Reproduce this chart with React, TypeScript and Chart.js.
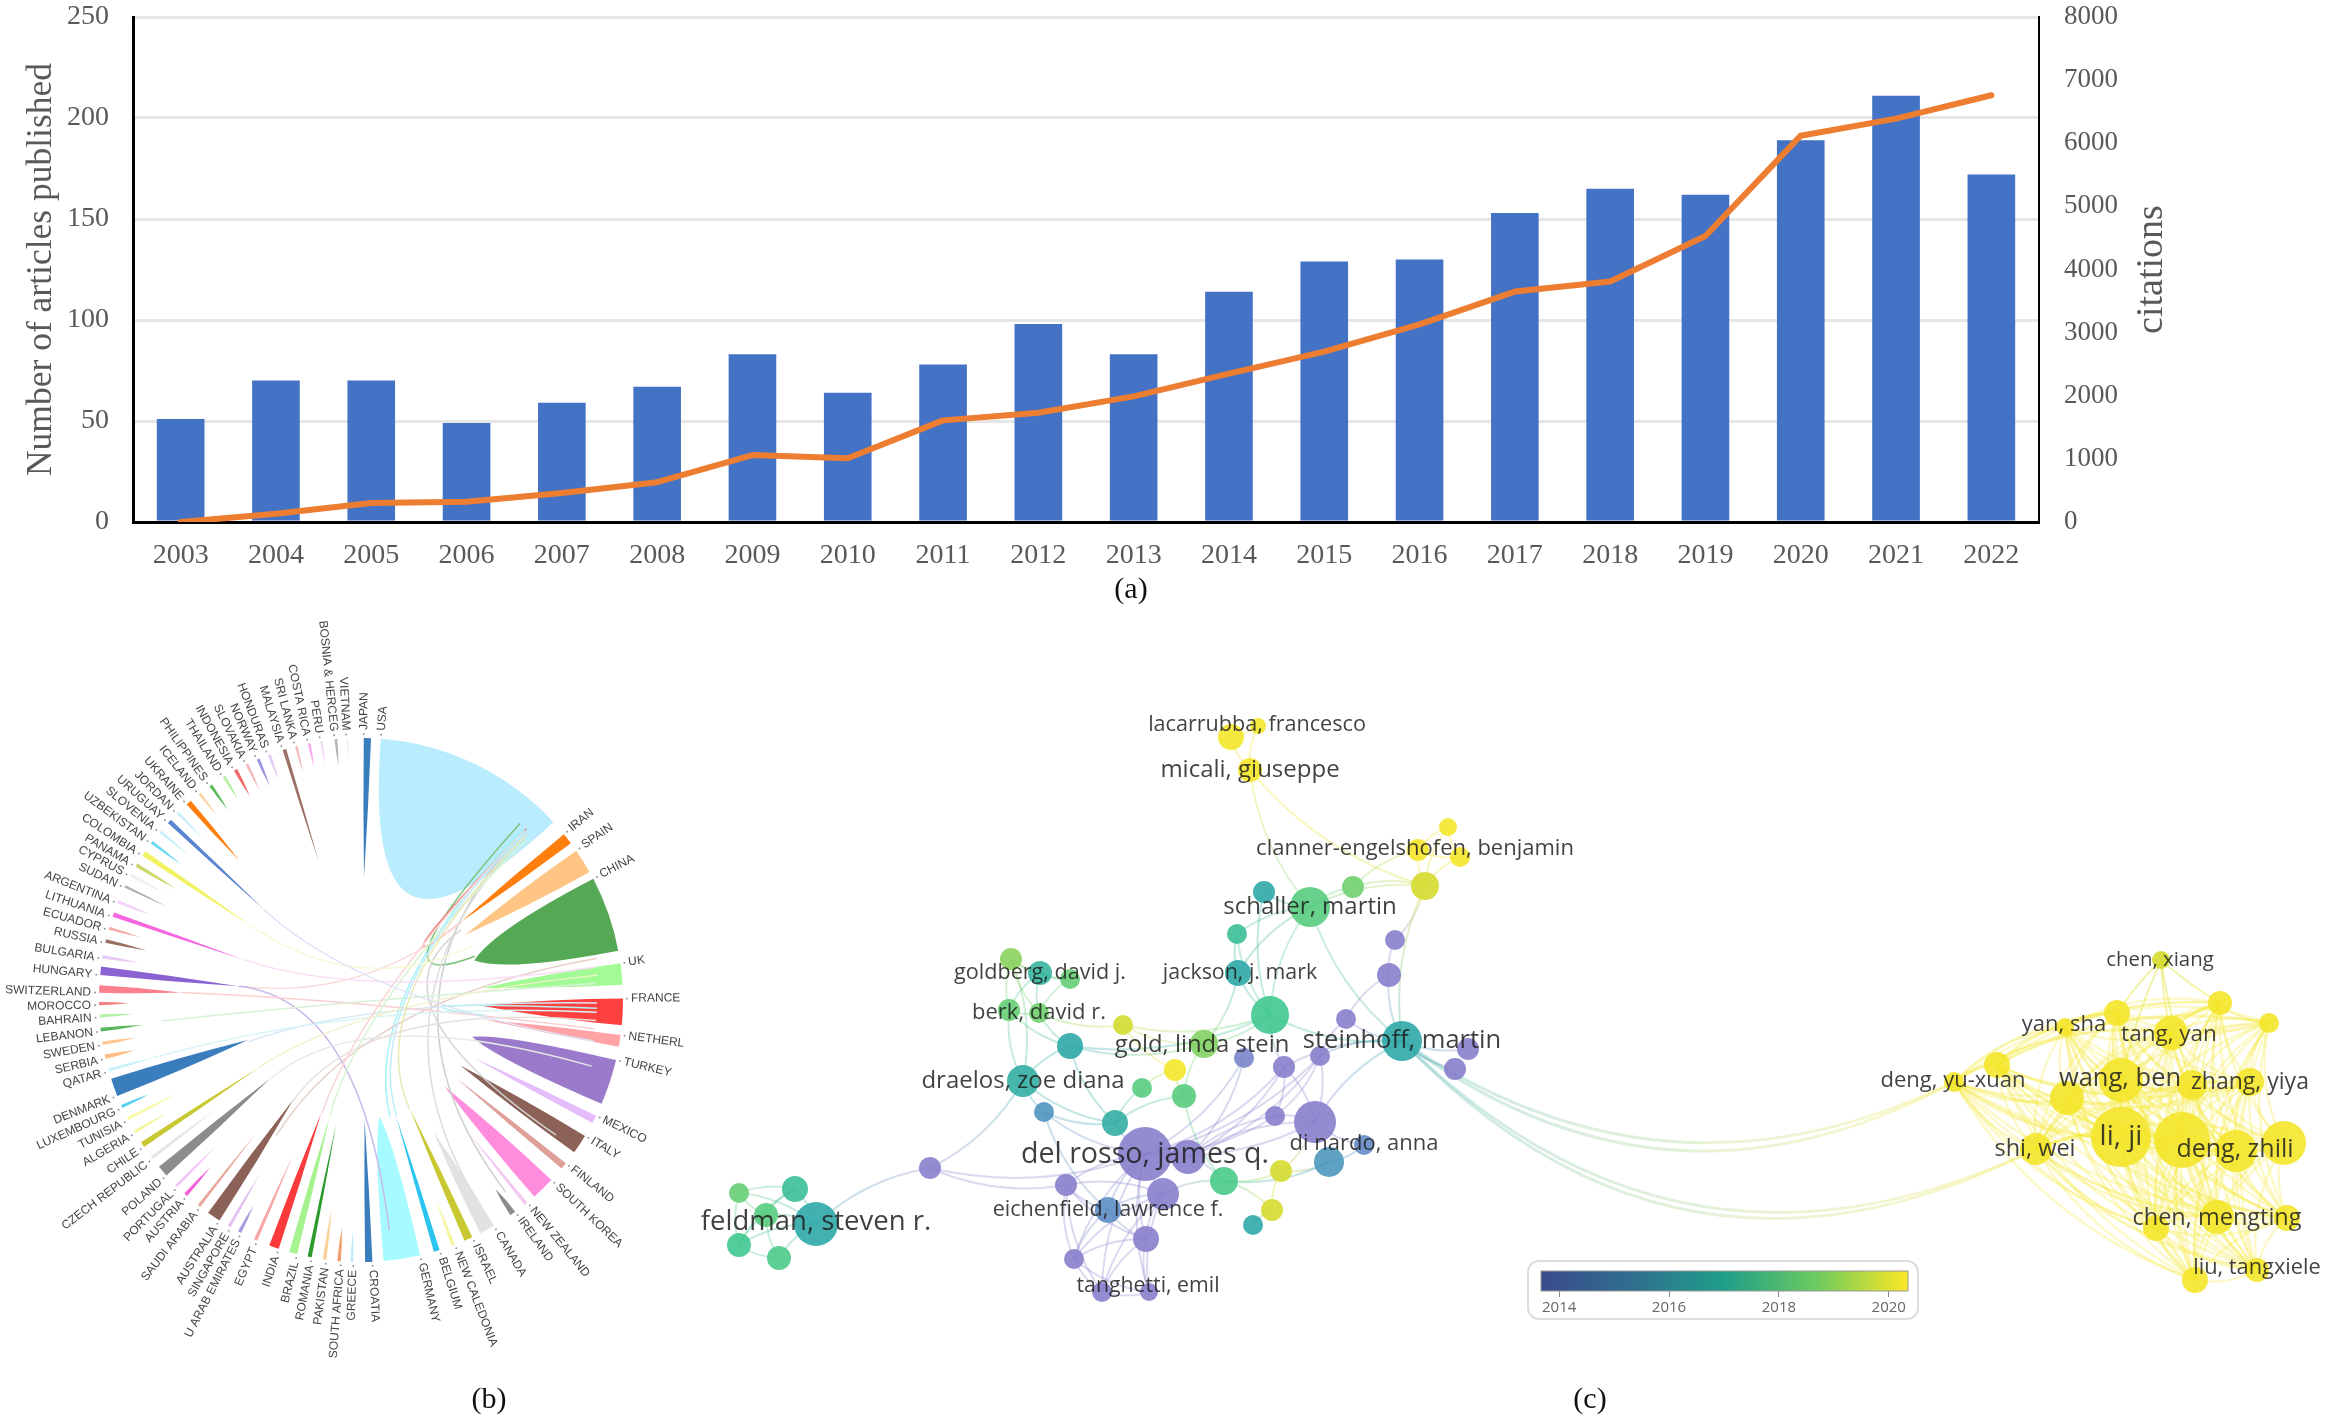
import { useEffect, useRef } from "react";
import { Chart, registerables } from "chart.js";

Chart.register(...registerables);
Chart.defaults.devicePixelRatio = 1;

// (a) yearly output
const years = ["2003", "2004", "2005", "2006", "2007", "2008", "2009", "2010", "2011", "2012", "2013", "2014", "2015", "2016", "2017", "2018", "2019", "2020", "2021", "2022"];
const articles = [51, 70, 70, 49, 59, 67, 83, 64, 78, 98, 83, 114, 129, 130, 153, 165, 162, 189, 211, 172];
const citations = [0, 130, 300, 320, 460, 630, 1060, 1010, 1610, 1730, 1990, 2350, 2700, 3130, 3650, 3810, 4530, 6120, 6390, 6760];

// (b) country chord: angle in degrees clockwise from north, span of the band, radius the band reaches in to
const countries = ["USA", "IRAN", "SPAIN", "CHINA", "UK", "FRANCE", "NETHERL", "TURKEY", "MEXICO", "ITALY", "FINLAND", "SOUTH KOREA", "NEW ZEALAND", "IRELAND", "CANADA", "ISRAEL", "NEW CALEDONIA", "BELGIUM", "GERMANY", "CROATIA", "GREECE", "SOUTH AFRICA", "PAKISTAN", "ROMANIA", "BRAZIL", "INDIA", "EGYPT", "U ARAB EMIRATES", "SINGAPORE", "AUSTRALIA", "SAUDI ARABIA", "AUSTRIA", "PORTUGAL", "POLAND", "CZECH REPUBLIC", "CHILE", "ALGERIA", "TUNISIA", "LUXEMBOURG", "DENMARK", "QATAR", "SERBIA", "SWEDEN", "LEBANON", "BAHRAIN", "MOROCCO", "SWITZERLAND", "HUNGARY", "BULGARIA", "RUSSIA", "ECUADOR", "LITHUANIA", "ARGENTINA", "SUDAN", "CYPRUS", "PANAMA", "COLOMBIA", "UZBEKISTAN", "SLOVENIA", "URUGUAY", "JORDAN", "UKRAINE", "ICELAND", "PHILIPPINES", "THAILAND", "INDONESIA", "SLOVAKIA", "NORWAY", "HONDURAS", "MALAYSIA", "SRI LANKA", "COSTA RICA", "PERU", "BOSNIA & HERCEG", "VIETNAM", "JAPAN"];
const bandAngle = [25.8, 52, 58, 70.8, 84.3, 92.6, 99, 108.3, 117.1, 123.4, 129.3, 136, 141, 144.6, 151.2, 155.8, 159.4, 163.2, 171, 178.3, 182, 184.8, 188, 191.3, 195, 199.4, 203.7, 207.6, 210.2, 214.2, 218.2, 222, 224.8, 229.2, 233, 236.5, 239.8, 243, 246, 250.5, 254.5, 257.5, 260.5, 263.5, 266.5, 269.2, 272.4, 276.4, 279.5, 283, 285.9, 289, 292, 295.7, 298.5, 301, 304, 307, 310, 313, 315.6, 318.9, 322, 325, 328.5, 331.4, 334.2, 336.9, 339.5, 343, 345.7, 348.6, 351.3, 354.5, 357, 1.4];
const bandSpan = [42.9, 2.5, 5.5, 16.7, 4.7, 5.9, 2.6, 10.1, 1.8, 4.3, 1.5, 5.2, 0.8, 1.3, 3.4, 1.9, 0.8, 1.3, 8.1, 1.6, 0.6, 0.8, 0.8, 0.9, 1.8, 2.2, 0.8, 0.8, 0.7, 3, 0.7, 0.8, 0.7, 2.5, 0.7, 1.2, 0.7, 0.7, 0.7, 4, 0.7, 1, 0.8, 0.8, 0.7, 0.7, 1.6, 1.9, 0.8, 0.8, 0.7, 1, 0.7, 0.6, 0.6, 0.8, 1.2, 0.7, 0.6, 1, 0.6, 1.2, 0.6, 0.7, 0.7, 0.8, 0.6, 0.7, 0.7, 0.8, 0.6, 0.6, 0.5, 0.6, 0.4, 1.6];
const bandReach = [116, 127, 123, 120, 122, 119, 125, 117, 125, 119, 123, 120, 170, 232, 151, 119, 215, 122, 118, 119, 230, 228, 210, 127, 120, 120, 170, 232, 200, 119, 170, 225, 205, 120, 180, 122, 225, 205, 232, 120, 215, 232, 228, 220, 228, 232, 180, 123, 225, 220, 230, 124, 225, 215, 220, 215, 132, 225, 225, 133, 225, 185, 235, 232, 235, 232, 232, 232, 235, 145, 235, 238, 238, 235, 238, 122];
const bandColors = ["#b9ecfd", "#ff7f0e", "#ffc585", "#55a955", "#a2fb94", "#fd4040", "#ffa3a6", "#9c7acb", "#e6bdfb", "#8c6258", "#dfa09a", "#ff8cdc", "#f3c8f3", "#8c8c8c", "#e2e2e2", "#c8c832", "#f5f5a0", "#2bc4f0", "#a5fbff", "#3a7dbd", "#bfeefa", "#f0a070", "#fbd09a", "#2e9a2e", "#a6f28f", "#fb3b3b", "#f8a8a8", "#a79ee0", "#e2c0f2", "#8c6258", "#eba89f", "#f45ed8", "#f0c8f5", "#8c8c8c", "#e4e4e4", "#c8c832", "#f5f5a0", "#f8f8a8", "#55d0f5", "#3a7dbd", "#c5f2f8", "#ffbe85", "#ffc78f", "#5ab55a", "#b2f2a5", "#f47f7f", "#fb7f8c", "#8a62d2", "#e8c8f5", "#9b7165", "#f2b0ac", "#f565df", "#f2d4f8", "#b0b0b0", "#eeeeee", "#cfd66a", "#f2f265", "#6ed8f2", "#c5f2f8", "#5a84d2", "#c8f0f8", "#ff7f0e", "#ffd0a0", "#5abb5a", "#b5eea5", "#f06a6a", "#f5b5b5", "#9a94e2", "#e4d0f5", "#9b7165", "#f5bcbc", "#f8a8ec", "#f0d8f5", "#b5b5b5", "#f0f0f0", "#3a7dbd"];

// the ribbons that stay visible in the middle of the chord
const linkFromAngle = [166, 42, 44, 55, 44, 45, 212, 249.6, 276.4, 276.4, 272.4, 264, 254.5, 236.5, 229, 97, 195, 199, 156, 163, 214, 304, 289, 313];
const linkFromRadius = [120, 238, 238, 122, 236, 235, 160, 120, 123, 123, 180, 200, 215, 122, 120, 125, 120, 120, 119, 122, 125, 132, 124, 133];
const linkToAngle = [43.3, 69, 52, 124.7, 143, 150, 80, 90.7, 52, 173, 97, 86, 93, 84, 106, 92, 46, 44, 45, 44, 95, 64, 82, 100];
const linkToRadius = [236, 122, 127, 237, 240, 225, 240, 236, 125, 232, 235, 235, 236, 238, 240, 236, 230, 232, 233, 235, 236, 125, 236, 236];
const linkColors = ["#9ff3fa", "#7cc47c", "#f08080", "#d4d4d4", "#cfcfcf", "#dddddd", "#e6d0c8", "#d8e8f5", "#fbdcdc", "#c9b8ea", "#fbd0d0", "#d8f0d8", "#d8f5f8", "#f2f2c8", "#e8e8e8", "#b8f0f0", "#d8f5d0", "#fad8d8", "#e8e8b0", "#c0ecfa", "#e8e0dc", "#f8f8d8", "#fbdcf5", "#dde4f8"];

// (c) co-authorship map, map units, year is the mean publication year of the node
const nodeX = [1231, 1258, 1250, 1448, 1418, 1460, 1425, 1353, 1264, 1310, 1237, 1395, 1389, 1011, 1040, 1070, 1238, 1270, 1009, 1039, 1123, 1070, 1204, 1346, 1402, 1468, 1455, 1320, 1284, 1244, 1175, 1184, 1142, 1023, 1044, 1115, 1275, 1315, 1364, 1329, 1281, 1224, 1145, 1188, 1163, 1066, 1108, 1146, 1074, 1102, 1149, 1272, 1253, 930, 816, 795, 739, 766, 739, 779, 2161, 2117, 2220, 2269, 2065, 2171, 1997, 1954, 2121, 2067, 2192, 2250, 2121, 2182, 2236, 2284, 2036, 2217, 2156, 2287, 2195, 2257];
const nodeY = [737, 726, 770, 827, 850, 857, 886, 887, 892, 907, 934, 940, 975, 959, 973, 979, 973, 1015, 1010, 1013, 1025, 1046, 1044, 1019, 1041, 1049, 1069, 1056, 1067, 1058, 1070, 1096, 1088, 1081, 1112, 1123, 1116, 1122, 1145, 1162, 1171, 1181, 1154, 1157, 1194, 1185, 1210, 1239, 1259, 1292, 1292, 1210, 1225, 1168, 1224, 1189, 1193, 1215, 1245, 1258, 960, 1013, 1003, 1023, 1027, 1033, 1065, 1082, 1080, 1098, 1085, 1082, 1137, 1140, 1151, 1143, 1149, 1217, 1228, 1218, 1280, 1270];
const nodeSize = [13, 8, 12, 9, 11, 10, 14, 11, 11, 20, 10, 10, 12, 11, 12, 10, 13, 19, 11, 10, 10, 13, 14, 10, 20, 11, 11, 10, 11, 10, 11, 12, 10, 16, 10, 13, 10, 21, 10, 15, 11, 14, 27, 17, 16, 11, 13, 13, 10, 10, 9, 11, 10, 11, 22, 13, 10, 12, 12, 12, 9, 13, 12, 10, 9, 17, 13, 10, 22, 17, 15, 14, 30, 28, 21, 22, 16, 17, 13, 13, 13, 12];
const nodeYear = [2020, 2020, 2020, 2020, 2020, 2020, 2019.3, 2018, 2016, 2017.5, 2016.7, 2014, 2014, 2018.3, 2016.4, 2017.8, 2016, 2017, 2017.8, 2018, 2019.2, 2016, 2018.2, 2014, 2016, 2014, 2014, 2014, 2014, 2014.3, 2020, 2017.5, 2017.5, 2016.2, 2015.2, 2016.2, 2014, 2014, 2014.7, 2015.3, 2019.3, 2017.2, 2014, 2014, 2014, 2014, 2014.9, 2014, 2014, 2014, 2014, 2019.3, 2016, 2014, 2016, 2016.7, 2017.8, 2017.5, 2017, 2017.2, 2019.3, 2020, 2020, 2020, 2020, 2020, 2020, 2020, 2020, 2020, 2020, 2020, 2020, 2020, 2020, 2020, 2020, 2020, 2020, 2020, 2020, 2020];
const edges = [[0, 1], [0, 2], [1, 2], [2, 9], [2, 6], [3, 4], [3, 5], [3, 6], [4, 5], [4, 6], [5, 6], [4, 7], [6, 7], [6, 9], [7, 9], [8, 9], [9, 10], [9, 16], [9, 17], [9, 24], [6, 24], [10, 16], [8, 17], [10, 17], [16, 17], [17, 24], [17, 28], [11, 6], [11, 12], [12, 24], [12, 23], [23, 24], [23, 27], [24, 25], [24, 26], [24, 27], [24, 28], [24, 37], [13, 14], [13, 15], [13, 18], [13, 19], [14, 15], [14, 18], [14, 19], [15, 19], [18, 19], [18, 21], [18, 33], [19, 21], [19, 20], [21, 33], [21, 35], [21, 22], [21, 17], [20, 22], [20, 30], [20, 17], [22, 17], [22, 31], [22, 16], [30, 31], [30, 32], [31, 41], [31, 35], [32, 35], [33, 34], [33, 35], [33, 13], [34, 35], [34, 42], [34, 46], [35, 42], [41, 40], [41, 43], [41, 39], [41, 44], [40, 51], [40, 39], [40, 37], [51, 52], [51, 41], [39, 38], [37, 38], [37, 27], [37, 28], [37, 36], [37, 43], [36, 28], [36, 27], [36, 43], [43, 28], [43, 29], [43, 27], [42, 43], [42, 44], [42, 45], [42, 46], [42, 47], [42, 48], [42, 49], [42, 50], [42, 36], [42, 37], [42, 29], [42, 28], [42, 27], [44, 45], [44, 46], [44, 47], [44, 48], [44, 49], [44, 50], [45, 46], [45, 47], [45, 48], [45, 49], [46, 47], [46, 48], [47, 48], [47, 49], [47, 50], [48, 49], [48, 50], [49, 50], [53, 42], [53, 45], [53, 33], [53, 54], [54, 55], [54, 56], [54, 57], [54, 58], [54, 59], [55, 56], [55, 57], [55, 58], [56, 57], [56, 58], [57, 58], [57, 59], [58, 59]];
const yellowGroup = [61, 62, 63, 64, 65, 66, 67, 68, 69, 70, 71, 72, 73, 74, 75, 76, 77, 78, 79, 80, 81];
const chenXiangLinks = [61, 62, 65, 68, 70];
const bridgeLinks = [[24, 67, 0.32], [24, 67, 0.29], [24, 76, 0.35], [24, 76, 0.37]];

const authorNames = ["lacarrubba, francesco", "micali, giuseppe", "clanner-engelshofen, benjamin", "schaller, martin", "goldberg, david j.", "jackson, j. mark", "berk, david r.", "gold, linda stein", "steinhoff, martin", "draelos, zoe diana", "del rosso, james q.", "di nardo, anna", "eichenfield, lawrence f.", "feldman, steven r.", "tanghetti, emil", "chen, xiang", "yan, sha", "tang, yan", "deng, yu-xuan", "wang, ben", "zhang, yiya", "li, ji", "deng, zhili", "shi, wei", "chen, mengting", "liu, tangxiele"];
const authorX = [1257, 1250, 1415, 1310, 1040, 1240, 1039, 1202, 1402, 1023, 1145, 1364, 1108, 816, 1148, 2160, 2064, 2169, 1953, 2120, 2250, 2121, 2235, 2035, 2217, 2257];
const authorY = [725, 770, 849, 907, 973, 973, 1013, 1045, 1041, 1081, 1155, 1144, 1210, 1222, 1286, 960, 1025, 1035, 1081, 1079, 1082, 1137, 1150, 1149, 1218, 1268];
const authorFont = [21.6, 24, 22, 24, 21.6, 21.4, 22, 23.8, 25.5, 24, 28.6, 22, 21.6, 27.5, 21.3, 20.4, 22, 22.5, 22, 25.5, 23, 28, 25, 23.5, 23.5, 21.8];

const legendYears = [2014, 2016, 2018, 2020];

const yearStops = [[2014, 136, 128, 204], [2015, 88, 144, 196], [2016, 48, 168, 168], [2017, 64, 200, 144], [2018, 112, 208, 112], [2019, 200, 216, 48], [2020, 244, 230, 42]];

const yearColor = (year: number, alpha = 1) => {
  let i = 0;
  while (i < yearStops.length - 2 && year > yearStops[i + 1][0]) i++;
  const a = yearStops[i];
  const b = yearStops[i + 1];
  const t = Math.min(1, Math.max(0, (year - a[0]) / (b[0] - a[0])));
  const mix = (k: number) => Math.round(a[k] + (b[k] - a[k]) * t);
  return `rgba(${mix(1)},${mix(2)},${mix(3)},${alpha})`;
};

const SERIF = '"Liberation Serif", serif';
const SANS = '"Liberation Sans", sans-serif';
const OPEN = '"Open Sans", sans-serif';
const GREY = "#595959";
const CHORD_R = 262;

// right axis title reads bottom to top, which chart.js will not do for a right axis
const citationsTitle = {
  id: "citationsTitle",
  afterDraw(chart: any) {
    const { ctx, chartArea } = chart;
    ctx.save();
    ctx.translate(chartArea.right + 113, (chartArea.top + chartArea.bottom) / 2);
    ctx.rotate(-Math.PI / 2);
    ctx.font = `38px ${SERIF}`;
    ctx.fillStyle = GREY;
    ctx.textAlign = "center";
    ctx.textBaseline = "middle";
    ctx.fillText("citations", 0, 0);
    ctx.restore();
  },
};

// tick padding would otherwise push the plot area down from the top
const fixedWidth = (width: number) => (s: any) => {
  s.width = width;
  s.paddingTop = 0;
  s.paddingBottom = 0;
};

const trendConfig: any = {
  data: {
    labels: years,
    datasets: [
      { type: "line", data: citations, yAxisID: "y1", borderColor: "#ed7d31", borderWidth: 6, pointRadius: 0, tension: 0, borderCapStyle: "round", borderJoinStyle: "round", order: 1 },
      { type: "bar", data: articles, yAxisID: "y", backgroundColor: "#4472c4", barPercentage: 0.5, categoryPercentage: 1, order: 2 },
    ],
  },
  options: {
    responsive: false,
    animation: false,
    layout: { autoPadding: false, padding: { top: 17, right: 0, left: 0, bottom: 0 } },
    plugins: { legend: { display: false }, tooltip: { enabled: false } },
    scales: {
      x: {
        grid: { display: false, drawTicks: false },
        border: { color: "#000", width: 3 },
        ticks: { color: GREY, font: { family: SERIF, size: 28 }, padding: 17, maxRotation: 0, autoSkip: false },
        afterFit: (s: any) => {
          s.height = 78;
          s.paddingLeft = 0;
          s.paddingRight = 0;
        },
      },
      y: {
        min: 0, max: 250,
        grid: { color: "#e6e6e6", lineWidth: 3, drawTicks: false },
        border: { color: "#000", width: 3 },
        ticks: { stepSize: 50, color: GREY, font: { family: SERIF, size: 28 }, padding: 24 },
        title: { display: true, text: "Number of articles published", color: GREY, font: { family: SERIF, size: 35.5 }, padding: { top: 20, bottom: 0 } },
        afterFit: fixedWidth(133),
      },
      y1: {
        position: "right",
        min: 0, max: 8000,
        grid: { display: false, drawTicks: false },
        border: { color: "#000", width: 2 },
        ticks: { stepSize: 1000, color: GREY, font: { family: SERIF, size: 27 }, padding: 25, callback: (v: number) => String(v) },
        afterFit: fixedWidth(286),
      },
    },
  },
  plugins: [citationsTitle],
};

const chordPlugin = {
  id: "chord",
  beforeDatasetsDraw(chart: any) {
    const { ctx, scales } = chart;
    const at = (deg: number, r: number) => {
      const a = (deg * Math.PI) / 180;
      return [scales.x.getPixelForValue(r * Math.sin(a)), scales.y.getPixelForValue(r * Math.cos(a))];
    };
    const [cx, cy] = at(0, 0);
    const rimPx = Math.abs(at(0, CHORD_R)[1] - cy);
    countries.forEach((_, i) => {
      const a0 = bandAngle[i] - bandSpan[i] / 2;
      const a1 = bandAngle[i] + bandSpan[i] / 2;
      const reach = bandReach[i];
      // the wide bands keep their width far inward and end in a round tip, the thin ones taper straight
      const belly = reach + (CHORD_R - reach) * (bandSpan[i] > 30 ? 0.06 : bandSpan[i] > 8 ? 0.2 : 0.5);
      const tip = at(bandAngle[i], reach);
      const c1 = at(a1, belly);
      const c0 = at(a0, belly);
      const start = at(a0, CHORD_R);
      ctx.beginPath();
      ctx.arc(cx, cy, rimPx, ((a0 - 90) * Math.PI) / 180, ((a1 - 90) * Math.PI) / 180);
      ctx.quadraticCurveTo(c1[0], c1[1], tip[0], tip[1]);
      ctx.quadraticCurveTo(c0[0], c0[1], start[0], start[1]);
      ctx.closePath();
      ctx.fillStyle = bandColors[i];
      ctx.fill();
    });
    linkFromAngle.forEach((_, i) => {
      const p = at(linkFromAngle[i], linkFromRadius[i]);
      const q = at(linkToAngle[i], linkToRadius[i]);
      ctx.beginPath();
      ctx.moveTo(p[0], p[1]);
      ctx.quadraticCurveTo(cx, cy, q[0], q[1]);
      ctx.strokeStyle = linkColors[i];
      ctx.lineWidth = 1.5;
      ctx.stroke();
    });
  },
  afterDatasetsDraw(chart: any) {
    const { ctx, scales } = chart;
    ctx.save();
    ctx.font = `12px ${SANS}`;
    ctx.fillStyle = "#444";
    ctx.textBaseline = "middle";
    countries.forEach((name, i) => {
      // the label sits at the band's leading edge, not its middle
      const deg = ((bandAngle[i] - bandSpan[i] / 2) % 360 + 360) % 360;
      const a = (deg * Math.PI) / 180;
      const x = scales.x.getPixelForValue(270 * Math.sin(a));
      const y = scales.y.getPixelForValue(270 * Math.cos(a));
      ctx.save();
      ctx.translate(x, y);
      if (deg < 180) {
        ctx.rotate(a - Math.PI / 2);
        ctx.textAlign = "left";
      } else {
        ctx.rotate(a + Math.PI / 2);
        ctx.textAlign = "right";
      }
      ctx.fillText(name, 0, 0);
      ctx.restore();
    });
    ctx.restore();
  },
};

const chordConfig: any = {
  type: "scatter",
  data: {
    datasets: [{
      data: countries.map((_, i) => {
        const a = ((bandAngle[i] - bandSpan[i] / 2) * Math.PI) / 180;
        return { x: 266 * Math.sin(a), y: 266 * Math.cos(a) };
      }),
      pointRadius: 1,
      pointBackgroundColor: "#999",
      pointBorderWidth: 0,
    }],
  },
  options: {
    responsive: false,
    animation: false,
    layout: { autoPadding: false },
    plugins: { legend: { display: false }, tooltip: { enabled: false } },
    scales: {
      x: { display: false, min: -361, max: 359 },
      y: { display: false, min: -422, max: 400 },
    },
  },
  plugins: [chordPlugin],
};

const networkPlugin = {
  id: "network",
  beforeDatasetsDraw(chart: any) {
    const { ctx, scales } = chart;
    const px = (i: number) => [scales.x.getPixelForValue(nodeX[i]), scales.y.getPixelForValue(nodeY[i])];
    const curve = (a: number, b: number, bend: number, width: number, alpha: number) => {
      const [x0, y0] = px(a);
      const [x1, y1] = px(b);
      const g = ctx.createLinearGradient(x0, y0, x1, y1);
      g.addColorStop(0, yearColor(nodeYear[a], alpha));
      g.addColorStop(1, yearColor(nodeYear[b], alpha));
      ctx.beginPath();
      ctx.moveTo(x0, y0);
      ctx.quadraticCurveTo((x0 + x1) / 2 - (y1 - y0) * bend, (y0 + y1) / 2 + (x1 - x0) * bend, x1, y1);
      ctx.strokeStyle = g;
      ctx.lineWidth = width;
      ctx.stroke();
    };
    edges.forEach(([a, b]) => curve(a, b, 0.15, 2, 0.3));
    yellowGroup.forEach((a, i) => yellowGroup.slice(i + 1).forEach((b) => curve(a, b, 0.18, 2.5, 0.25)));
    chenXiangLinks.forEach((b) => curve(60, b, 0.05, 2, 0.4));
    bridgeLinks.forEach(([a, b, bend]) => curve(a, b, bend, 3, 0.25));
  },
  afterDatasetsDraw(chart: any) {
    const { ctx, scales } = chart;
    ctx.save();
    ctx.textAlign = "center";
    ctx.textBaseline = "middle";
    ctx.fillStyle = "rgba(30,30,30,0.85)";
    authorNames.forEach((name, i) => {
      ctx.font = `${authorFont[i]}px ${OPEN}`;
      ctx.fillText(name, scales.x.getPixelForValue(authorX[i]), scales.y.getPixelForValue(authorY[i]));
    });
    ctx.restore();
  },
};

const networkConfig: any = {
  type: "bubble",
  data: {
    datasets: [{
      data: nodeX.map((x, i) => ({ x, y: nodeY[i], r: nodeSize[i] })),
      backgroundColor: nodeYear.map((y) => yearColor(y, 0.9)),
      borderWidth: 0,
    }],
  },
  options: {
    responsive: false,
    animation: false,
    clip: false,
    layout: { autoPadding: false },
    plugins: { legend: { display: false }, tooltip: { enabled: false } },
    scales: {
      x: { display: false, min: 680, max: 2325 },
      y: { display: false, reverse: true, min: 690, max: 1400 },
    },
  },
  plugins: [networkPlugin],
};

const legendPlugin = {
  id: "yearBar",
  beforeDatasetsDraw(chart: any) {
    const { ctx, chartArea } = chart;
    const g = ctx.createLinearGradient(chartArea.left, 0, chartArea.right, 0);
    ["#3b4a8c", "#2f6f8e", "#1f9e89", "#6ccb5f", "#fde725"].forEach((c, i) => g.addColorStop(i / 4, c));
    ctx.fillStyle = g;
    ctx.fillRect(chartArea.left, chartArea.top, chartArea.right - chartArea.left, chartArea.bottom - chartArea.top);
    ctx.strokeStyle = "#999";
    ctx.strokeRect(chartArea.left, chartArea.top, chartArea.right - chartArea.left, chartArea.bottom - chartArea.top);
  },
};

const legendConfig: any = {
  type: "scatter",
  data: { datasets: [{ data: [] }] },
  options: {
    responsive: false,
    animation: false,
    layout: { autoPadding: false, padding: { left: 14, right: 11, top: 11, bottom: 0 } },
    plugins: { legend: { display: false }, tooltip: { enabled: false } },
    scales: {
      x: {
        min: 2013.67, max: 2020.35,
        afterBuildTicks: (s: any) => { s.ticks = legendYears.map((value) => ({ value })); },
        grid: { display: true, drawOnChartArea: false, color: "#888", tickLength: 6 },
        border: { display: false },
        ticks: { color: "#666", font: { family: OPEN, size: 15 }, padding: 2, maxRotation: 0, callback: (v: number) => String(v) },
        afterFit: (s: any) => {
          s.height = 29;
          s.paddingLeft = 0;
          s.paddingRight = 0;
        },
      },
      y: { display: false, min: 0, max: 1 },
    },
  },
  plugins: [legendPlugin],
};

const ChartCanvas = ({ config, left, top, width, height }: any) => {
  const ref = useRef<HTMLCanvasElement | null>(null);
  useEffect(() => {
    if (!ref.current) return;
    const chart = new Chart(ref.current, config);
    return () => chart.destroy();
  }, [config]);
  return (
    <canvas
      ref={ref}
      width={width}
      height={height}
      style={{ position: "absolute", left, top, width, height, display: "block" }}
    />
  );
};

const Caption = ({ text, x, y }: any) => (
  <div style={{ position: "absolute", left: x, top: y, transform: "translate(-50%, -50%)", font: `30px ${SERIF}`, color: "#111" }}>{text}</div>
);

export default function App() {
  return (
    <div style={{ position: "absolute", left: 0, top: 0, width: 2325, height: 1422, background: "#fff", overflow: "hidden", filter: "blur(0.6px)" }}>
      <ChartCanvas config={trendConfig} left={0} top={0} width={2325} height={600} />
      <ChartCanvas config={chordConfig} left={0} top={600} width={720} height={822} />
      <ChartCanvas config={networkConfig} left={680} top={690} width={1645} height={710} />
      <div style={{ position: "absolute", left: 1527, top: 1260, width: 392, height: 60, boxSizing: "border-box", border: "2px solid #ddd", borderRadius: 12 }} />
      <ChartCanvas config={legendConfig} left={1527} top={1260} width={392} height={60} />
      <Caption text="(a)" x={1131} y={588} />
      <Caption text="(b)" x={489} y={1398} />
      <Caption text="(c)" x={1590} y={1398} />
    </div>
  );
}
